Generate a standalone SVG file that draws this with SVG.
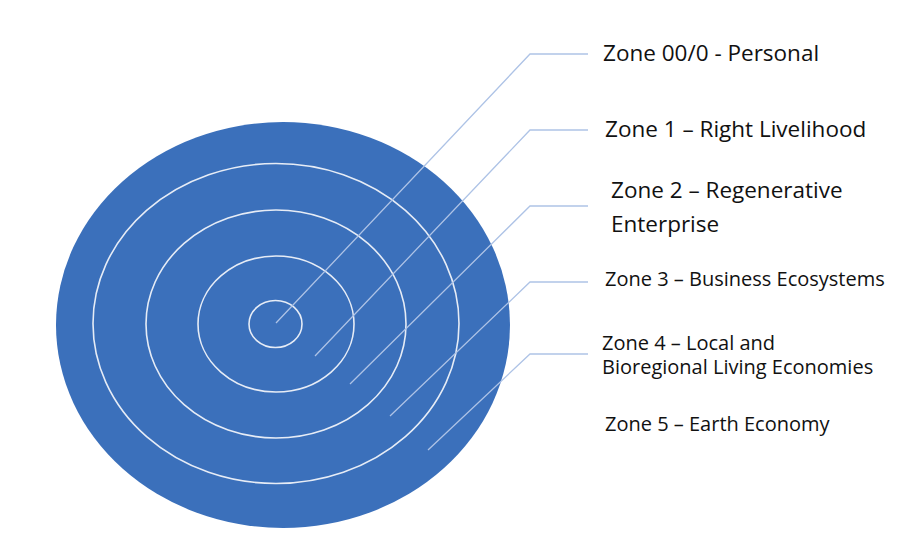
<svg xmlns="http://www.w3.org/2000/svg" width="900" height="547" viewBox="0 0 900 547">
<style>
.ring{fill:none;stroke:#e6ecf6;stroke-width:1.6}
.lead{fill:none;stroke:#aec3e6;stroke-width:1.3}
.lbl{font-family:"Open Sans","Liberation Sans",sans-serif;fill:#111}
.big{font-size:22.5px}
.sm{font-size:20px}
</style>
<rect width="900" height="547" fill="#ffffff"/>
<g id="zones">
<ellipse id="zone5" cx="283" cy="325" rx="227" ry="203" fill="#3b70bb"/>
<ellipse id="zone4" class="ring" cx="276" cy="323.5" rx="183" ry="160"/>
<ellipse id="zone3" class="ring" cx="276" cy="324" rx="130" ry="114"/>
<ellipse id="zone2" class="ring" cx="276" cy="324" rx="78" ry="68"/>
<ellipse id="zone1" class="ring" cx="275.5" cy="324" rx="26.5" ry="23.5"/>
</g>
<g id="connectors">
<polyline class="lead" points="276,323 530,54 588,54"/>
<polyline class="lead" points="315,356 530,130 588,130"/>
<polyline class="lead" points="350,384 530,206 588,206"/>
<polyline class="lead" points="390,416 530,282 588,282"/>
<polyline class="lead" points="428,450 530,354 588,354"/>
</g>
<g id="label0"><text class="lbl big" x="603" y="61">Zone 00/0 - Personal</text></g>
<g id="label1"><text class="lbl big" x="605" y="137">Zone 1 – Right Livelihood</text></g>
<g id="label2"><text class="lbl big" x="611" y="198" font-size="21.5">Zone 2 – Regenerative</text><text class="lbl big" x="611" y="232">Enterprise</text></g>
<g id="label3"><text class="lbl sm" x="605" y="286">Zone 3 – Business Ecosystems</text></g>
<g id="label4"><text class="lbl sm" x="602" y="350">Zone 4 – Local and</text><text class="lbl sm" x="602" y="373.5">Bioregional Living Economies</text></g>
<g id="label5"><text class="lbl sm" x="605" y="431">Zone 5 – Earth Economy</text></g>
</svg>
